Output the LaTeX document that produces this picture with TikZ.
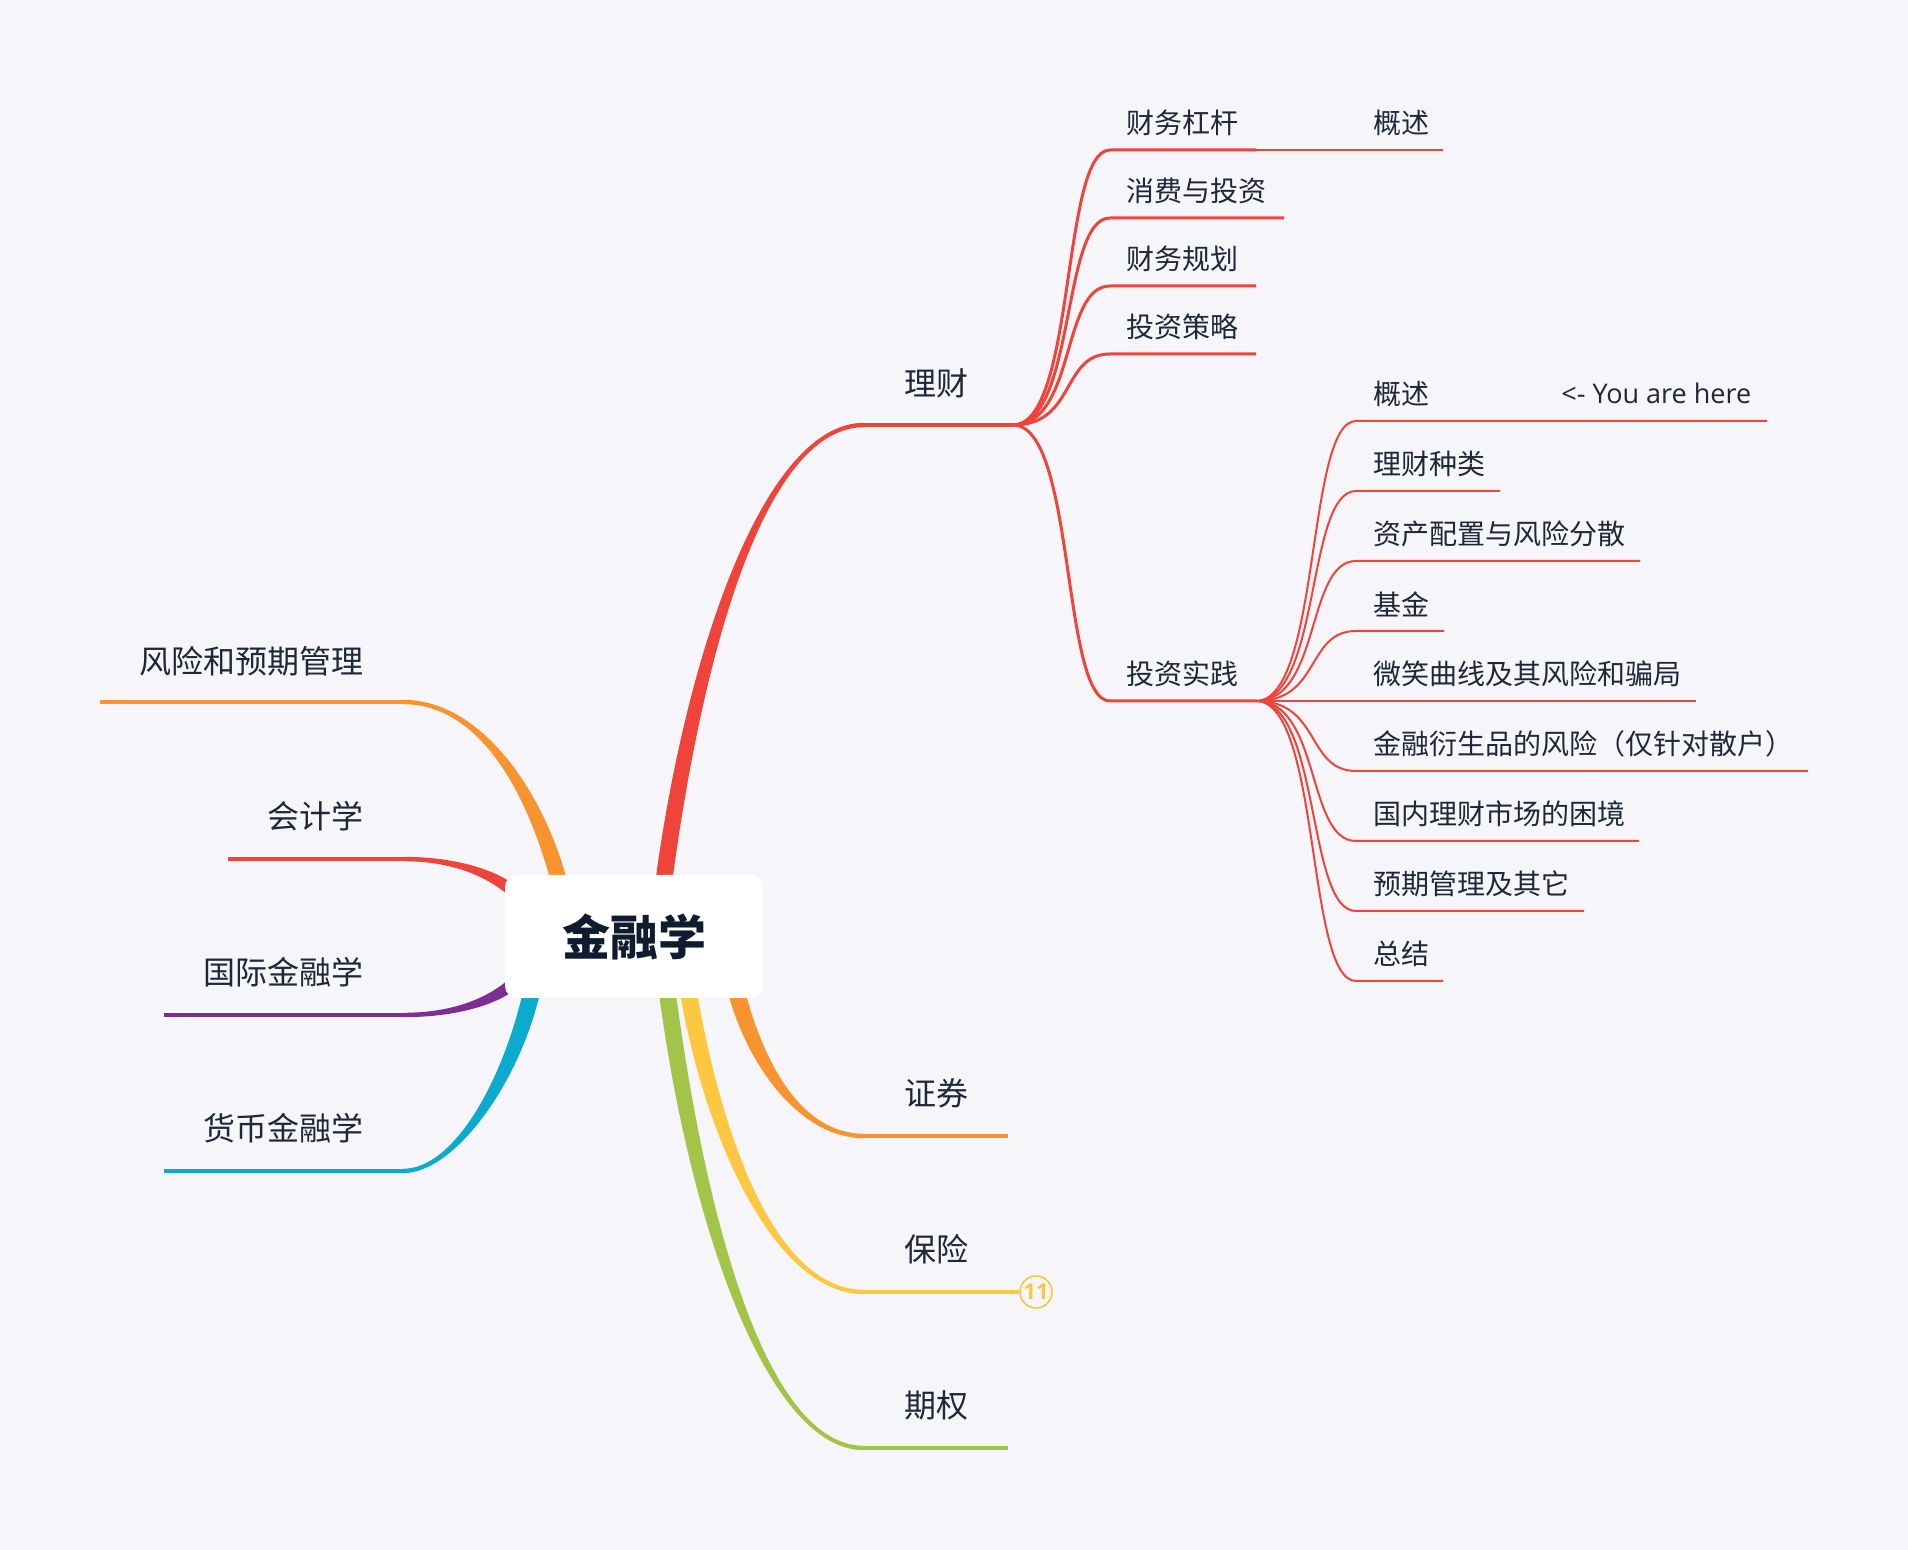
\documentclass[tikz,border=0pt]{standalone}
\usepackage{fontspec}
\setmainfont{Noto Sans CJK SC}
\newfontfamily\latinfont{Open Sans}
\usetikzlibrary{calc}
\definecolor{bg}{HTML}{F5F5FA}
\definecolor{txt}{HTML}{1E2838}
\definecolor{roottxt}{HTML}{0F1B2E}
\definecolor{cred}{HTML}{F0433A}
\definecolor{corange}{HTML}{F7942F}
\definecolor{cyellow}{HTML}{FDC740}
\definecolor{cgreen}{HTML}{A2C449}
\definecolor{cpurple}{HTML}{7E2D93}
\definecolor{ccyan}{HTML}{0BABD0}
% tapered main branch: #1 colour, #2 prefix of coordinates s,a,b,e ; #3 half width at start
\newcommand\taperbranch[3]{%
  \fill[#1] ($(#2s)!#3!90:(#2a)$) .. controls ($(#2a)!#3!-90:(#2s)$) and ($(#2b)!1.1pt!90:(#2e)$) .. ($(#2e)!1.1pt!-90:(#2b)$)
    -- ($(#2e)!1.1pt!90:(#2b)$) .. controls ($(#2b)!1.1pt!-90:(#2e)$) and ($(#2a)!#3!90:(#2s)$) .. ($(#2s)!#3!-90:(#2a)$) -- cycle;}
\tikzset{
  mainlbl/.style={inner sep=0pt, text=txt, font=\fontsize{16}{16}\selectfont},
  leftlbl/.style={mainlbl, anchor=east},
  sublbl/.style={inner sep=0pt, text=txt, font=\fontsize{14}{14}\selectfont, anchor=west},
  mainline/.style={line width=2.2pt},
  lvltwo/.style={draw=cred, line width=1.5pt, line join=round},
  lvlthree/.style={draw=cred, line width=1pt, line join=round},
}
\begin{document}
\begin{tikzpicture}[x=0.5pt,y=-0.5pt]
\fill[bg] (0,0) rectangle (1908,1550);
\useasboundingbox (0,0) rectangle (1908,1550);

% ---------- main branch coordinates ----------
% 理财
\coordinate (lc-s) at (662,895); \coordinate (lc-a) at (692,660);
\coordinate (lc-b) at (763,425); \coordinate (lc-e) at (864,425);
\coordinate (lc-end) at (1013,425);
% 证券
\coordinate (zq-s) at (736,990); \coordinate (zq-a) at (755,1063);
\coordinate (zq-b) at (800,1136); \coordinate (zq-e) at (864,1136);
\coordinate (zq-end) at (1008,1136);
% 保险
\coordinate (bx-s) at (688,990); \coordinate (bx-a) at (714,1141);
\coordinate (bx-b) at (776,1292); \coordinate (bx-e) at (864,1292);
% 期权
\coordinate (qq-s) at (667,990); \coordinate (qq-a) at (697,1219);
\coordinate (qq-b) at (766,1448); \coordinate (qq-e) at (864,1448);
\coordinate (qq-end) at (1008,1448);
% 风险和预期管理
\coordinate (fx-s) at (560,885); \coordinate (fx-a) at (536,793);
\coordinate (fx-b) at (481,702); \coordinate (fx-e) at (403,702);
\coordinate (fx-end) at (100,702);
% 会计学
\coordinate (kj-s) at (515,893); \coordinate (kj-a) at (496,876);
\coordinate (kj-b) at (459,859); \coordinate (kj-e) at (403,859);
\coordinate (kj-end) at (228,859);
% 国际金融学
\coordinate (gj-s) at (515,982); \coordinate (gj-a) at (496,999);
\coordinate (gj-b) at (459,1015); \coordinate (gj-e) at (403,1015);
\coordinate (gj-end) at (164,1015);
% 货币金融学
\coordinate (hb-s) at (532,990); \coordinate (hb-a) at (512,1080);
\coordinate (hb-b) at (455,1171); \coordinate (hb-e) at (403,1171);
\coordinate (hb-end) at (164,1171);

% ---------- main branches ----------
\taperbranch{cred}{lc-}{4.2pt}
\draw[cred, mainline] (lc-e) -- (lc-end);
\taperbranch{corange}{zq-}{4.2pt}
\draw[corange, mainline] (zq-e) -- (zq-end);
\taperbranch{cyellow}{bx-}{4.2pt}
\taperbranch{cgreen}{qq-}{4.2pt}
\draw[cgreen, mainline] (qq-e) -- (qq-end);
\taperbranch{corange}{fx-}{4pt}
\draw[corange, mainline] (fx-e) -- (fx-end);
\taperbranch{cred}{kj-}{3pt}
\draw[cred, mainline] (kj-e) -- (kj-end);
\taperbranch{cpurple}{gj-}{3pt}
\draw[cpurple, mainline] (gj-e) -- (gj-end);
\taperbranch{ccyan}{hb-}{4.2pt}
\draw[ccyan, mainline] (hb-e) -- (hb-end);

% badge on 保险
\node (badge) [circle, draw=cyellow, line width=0.8pt, fill=bg, minimum size=16pt, inner sep=0pt,
  text=cyellow, font=\latinfont\fontsize{11}{11}\selectfont\bfseries] at (1036,1292) {11};
\draw[cyellow, mainline] (bx-e) -- (badge.west);

% ---------- root ----------
\node (root) [fill=white, rounded corners=6pt, minimum width=129pt, minimum height=61.5pt, inner sep=0pt,
  text=roottxt, font=\fontsize{24}{24}\selectfont\bfseries] at (634,936.5) {金融学};

% ---------- main labels ----------
\node (t-lc) [mainlbl] at (936,383) {理财};
\node (t-zq) [mainlbl] at (936,1093) {证券};
\node (t-bx) [mainlbl] at (936,1249) {保险};
\node (t-qq) [mainlbl] at (936,1405) {期权};
\node (t-fx) [leftlbl] at (364,661) {风险和预期管理};
\node (t-kj) [leftlbl] at (364,816) {会计学};
\node (t-gj) [leftlbl] at (364,972) {国际金融学};
\node (t-hb) [leftlbl] at (364,1128) {货币金融学};

% ---------- second level (理财) ----------
\foreach \n/\y/\xe in {cwgg/150/1256, xf/218/1284, cwgh/286/1256, tzcl/354/1256, tzsj/701/1256} {
  \coordinate (\n-e) at (1110,\y);
  \coordinate (\n-end) at (\xe,\y);
  \draw[lvltwo] (lc-end) .. controls ($(lc-end)+(63,0)$) and ($(lc-end |- \n-e)+(48,0)$) .. (\n-e) -- (\n-end);
}
\node (t-cwgg) [sublbl] at (1126,123) {财务杠杆};
\node (t-xf) [sublbl] at (1126,191) {消费与投资};
\node (t-cwgh) [sublbl] at (1126,259) {财务规划};
\node (t-tzcl) [sublbl] at (1126,327) {投资策略};
\node (t-tzsj) [sublbl] at (1126,674) {投资实践};

% child of 财务杠杆
\coordinate (gs1-end) at (1443,150);
\draw[lvlthree] (cwgg-end) -- (gs1-end);
\node (t-gs1) [sublbl] at (1373,123) {概述};

% ---------- third level (投资实践) ----------
\foreach \n/\y/\xe in {p1/421/1767, p2/491/1500, p3/561/1640, p4/631/1444, p5/701/1696, p6/771/1808, p7/841/1639, p8/911/1584, p9/981/1443} {
  \coordinate (\n-e) at (1356,\y);
  \coordinate (\n-end) at (\xe,\y);
  \draw[lvlthree] (tzsj-end) .. controls ($(tzsj-end)+(65,0)$) and ($(tzsj-end |- \n-e)+(50,0)$) .. (\n-e) -- (\n-end);
}
\node (t-p1) [sublbl] at (1373,394) {概述};
\node (t-here) [sublbl, font=\latinfont\fontsize{13.5}{13.5}\selectfont] at (1561,393) {<- You are here};
\node (t-p2) [sublbl] at (1373,464) {理财种类};
\node (t-p3) [sublbl] at (1373,534) {资产配置与风险分散};
\node (t-p4) [sublbl] at (1373,604) {基金};
\node (t-p5) [sublbl] at (1373,674) {微笑曲线及其风险和骗局};
\node (t-p6) [sublbl] at (1373,744) {金融衍生品的风险（仅针对散户）};
\node (t-p7) [sublbl] at (1373,814) {国内理财市场的困境};
\node (t-p8) [sublbl] at (1373,884) {预期管理及其它};
\node (t-p9) [sublbl] at (1373,954) {总结};
\end{tikzpicture}
\end{document}
